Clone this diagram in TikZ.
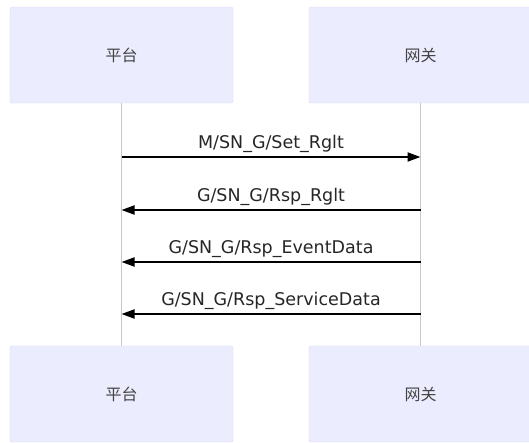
\documentclass[tikz,border=0pt]{standalone}
\usepackage{fontspec}
\setmainfont{DejaVu Sans}
\newfontfamily\cjk{Noto Sans CJK SC}
\usetikzlibrary{arrows.meta}
\definecolor{actfill}{HTML}{ECECFF}
\definecolor{actdraw}{HTML}{D6D6F0}
\definecolor{lifeline}{HTML}{C8C8C8}
\definecolor{txt}{HTML}{444444}
\begin{document}
\begin{tikzpicture}[x=1pt,y=-1pt,
  actor/.style={draw=actdraw,fill=actfill,rounded corners=2pt,minimum width=223pt,minimum height=96pt,inner sep=0pt,font=\cjk\fontsize{16}{16}\selectfont,text=txt},
  life/.style={draw=lifeline,line width=1pt},
  msg/.style={draw=black,line width=2pt,-{Triangle[length=13pt,width=9pt]}},
  lbl/.style={font=\fontsize{17.5}{18}\selectfont,text=black!85,inner sep=0pt,anchor=base,yshift=9pt}]
\useasboundingbox (0,0) rectangle (529,442);
\node[actor] (pt) at (121.5,55) {平台};
\node[actor] (gw) at (420.5,55) {网关};
\node[actor] (pb) at (121.5,394) {平台};
\node[actor] (gb) at (420.5,394) {网关};
\draw[life] (pt.south) -- (pb.north);
\draw[life] (gw.south) -- (gb.north);
\coordinate (a1) at (pt.south |- 0,157);
\coordinate (b1) at (gw.south |- 0,157);
\coordinate (a2) at (pt.south |- 0,210);
\coordinate (b2) at (gw.south |- 0,210);
\coordinate (a3) at (pt.south |- 0,262);
\coordinate (b3) at (gw.south |- 0,262);
\coordinate (a4) at (pt.south |- 0,314);
\coordinate (b4) at (gw.south |- 0,314);
\draw[msg] (a1) -- node[lbl] (l1) {M/SN\_G/Set\_Rglt} (b1);
\draw[msg] (b2) -- node[lbl] (l2) {G/SN\_G/Rsp\_Rglt} (a2);
\draw[msg] (b3) -- node[lbl] (l3) {G/SN\_G/Rsp\_EventData} (a3);
\draw[msg] (b4) -- node[lbl] (l4) {G/SN\_G/Rsp\_ServiceData} (a4);
\end{tikzpicture}
\end{document}
